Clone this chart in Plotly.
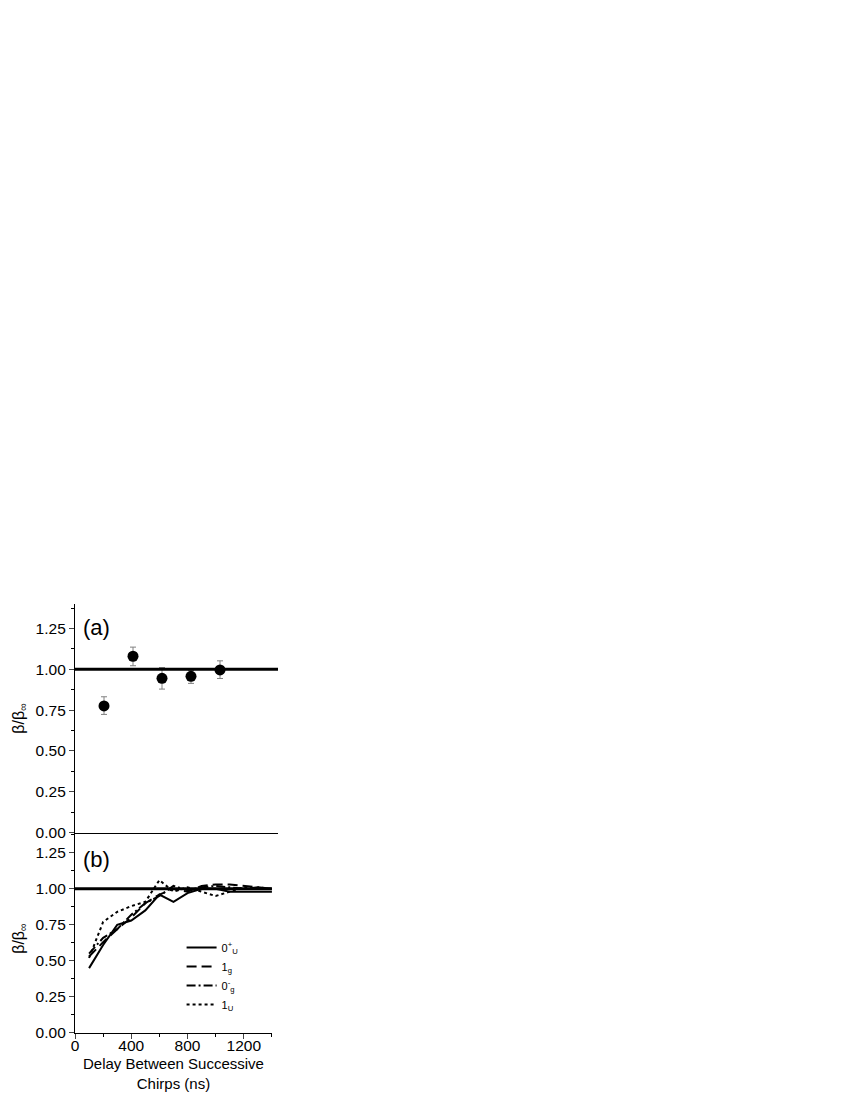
import plotly.graph_objects as go

# ---- Panel (a): measured ratio ----
delay_a = [200, 400, 600, 800, 1000]
ratio_a = [0.776, 1.08, 0.945, 0.957, 0.996]
err_plus_a = [0.056, 0.056, 0.066, 0.036, 0.056]
err_minus_a = [0.052, 0.058, 0.066, 0.043, 0.052]

# ---- Panel (b): simulated curves ----
delay_b = [100, 200, 300, 400, 500, 600, 700, 800, 900, 1000, 1100, 1200, 1300, 1400]
ratio_0u_plus = [0.45, 0.61, 0.75, 0.78, 0.85, 0.96, 0.91, 0.97, 1.00, 1.00, 0.98, 0.98, 0.98, 0.98]
ratio_1g = [0.53, 0.63, 0.72, 0.80, 0.90, 0.96, 1.00, 0.98, 1.02, 1.03, 1.03, 1.02, 1.01, 1.00]
ratio_0g_minus = [0.55, 0.66, 0.72, 0.82, 0.90, 0.95, 1.02, 0.99, 1.01, 1.02, 1.01, 1.00, 1.01, 1.00]
ratio_1u = [0.52, 0.77, 0.84, 0.88, 0.91, 1.06, 0.98, 1.01, 0.98, 0.95, 0.98, 1.01, 1.00, 1.00]

series_names = ["0<sup>+</sup><sub>U</sub>", "1<sub>g</sub>", "0<sup>-</sup><sub>g</sub>", "1<sub>U</sub>"]
series_vals = [ratio_0u_plus, ratio_1g, ratio_0g_minus, ratio_1u]
series_dash = ["solid", "10px,5px", "9px,3px,2px,3px", "3px,3px"]

y_ticks = [0.0, 0.25, 0.5, 0.75, 1.0, 1.25]
x_ticks = [0, 400, 800, 1200]

FONT = "Liberation Sans, Arial, sans-serif"

fig = go.Figure()

fig.add_trace(go.Scatter(
    x=delay_a, y=ratio_a, mode="markers", xaxis="x", yaxis="y",
    marker=dict(color="black", size=11),
    error_y=dict(type="data", symmetric=False, array=err_plus_a, arrayminus=err_minus_a,
                 color="#808080", thickness=1, width=3),
    showlegend=False,
))

for name, vals, dash in zip(series_names, series_vals, series_dash):
    fig.add_trace(go.Scatter(
        x=delay_b, y=vals, mode="lines", name=name, xaxis="x2", yaxis="y2",
        line=dict(color="black", width=2, dash=dash),
    ))

axis_common = dict(
    showline=True, linecolor="black", linewidth=1.3, showgrid=False, zeroline=False,
    automargin=False,
    tickfont=dict(family=FONT, size=15.5, color="black"),
)

fig.update_layout(
    width=834, height=1084,
    paper_bgcolor="white", plot_bgcolor="white",
    margin=dict(l=67, r=564, t=596, b=59),
    font=dict(family=FONT, color="black"),
    xaxis=dict(domain=[0, 1], range=[0, 1400], anchor="y", showticklabels=False, ticks="",
               **axis_common),
    yaxis=dict(domain=[0.467, 1], range=[0, 1.40], anchor="x",
               tickvals=y_ticks, tickformat=".2f", ticks="outside", ticklen=5, tickwidth=1,
               minor=dict(tick0=0, dtick=0.125, ticks="outside", ticklen=3, tickcolor="black"),
               **axis_common),
    xaxis2=dict(domain=[0, 0.970], range=[0, 1400], anchor="y2",
                tickvals=x_ticks, ticks="outside", ticklen=5, tickwidth=1,
                ticklabelstandoff=-7,
                minor=dict(tick0=0, dtick=200, ticks="outside", ticklen=3, tickcolor="black"),
                **axis_common),
    yaxis2=dict(domain=[0, 0.4639], range=[0, 1.38], anchor="x2",
                tickvals=y_ticks, tickformat=".2f", ticks="outside", ticklen=5, tickwidth=1,
                minor=dict(tick0=0, dtick=0.125, ticks="outside", ticklen=3, tickcolor="black"),
                **axis_common),
    legend=dict(x=0.525, y=0.233, xanchor="left", yanchor="top",
                bgcolor="rgba(0,0,0,0)", borderwidth=0,
                font=dict(family=FONT, size=11, color="black"),
                tracegroupgap=0, itemwidth=30),
    shapes=[
        dict(type="line", xref="x domain", yref="y", x0=0, x1=1, y0=1, y1=1,
             line=dict(color="black", width=3)),
        dict(type="line", xref="x2 domain", yref="y2", x0=0, x1=1, y0=1, y1=1,
             line=dict(color="black", width=3)),
    ],
    annotations=[
        dict(text="(a)", xref="paper", yref="paper", x=0.03, y=0.946, xanchor="left", yanchor="middle",
             showarrow=False, font=dict(family=FONT, size=22, color="black")),
        dict(text="(b)", xref="paper", yref="paper", x=0.03, y=0.405, xanchor="left", yanchor="middle",
             showarrow=False, font=dict(family=FONT, size=22, color="black")),
        dict(text="β/β<sub>∞</sub>", xref="paper", yref="paper", x=-0.275, y=0.733, textangle=-90,
             xanchor="center", yanchor="middle", showarrow=False,
             font=dict(family=FONT, size=16, color="black")),
        dict(text="β/β<sub>∞</sub>", xref="paper", yref="paper", x=-0.275, y=0.22, textangle=-90,
             xanchor="center", yanchor="middle", showarrow=False,
             font=dict(family=FONT, size=16, color="black")),
        dict(text="Delay Between Successive<br>Chirps (ns)", xref="paper", yref="paper",
             x=0.485, y=-0.047, xanchor="center", yanchor="top", showarrow=False,
             font=dict(family=FONT, size=15, color="black")),
    ],
)

fig.write_html("out.html")
